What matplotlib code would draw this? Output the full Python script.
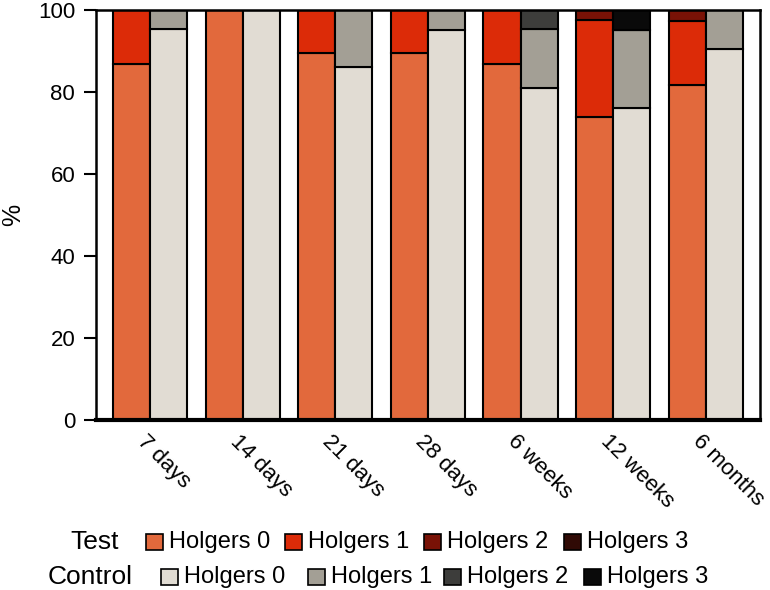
import matplotlib.pyplot as plt
import matplotlib.transforms as mtransforms
from matplotlib.patches import Rectangle
import numpy as np

plt.rcParams["font.family"] = ["Liberation Sans", "DejaVu Sans"]

periods = ["7 days", "14 days", "21 days", "28 days", "6 weeks", "12 weeks", "6 months"]

# percentage of sites per Holgers grade
test_h0 = [86.8, 100, 89.5, 89.5, 86.8, 73.8, 81.6]
test_h1 = [13.2, 0, 10.5, 10.5, 13.2, 23.7, 15.8]
test_h2 = [0, 0, 0, 0, 0, 2.5, 2.6]
test_h3 = [0, 0, 0, 0, 0, 0, 0]

ctrl_h0 = [95.3, 100, 86.0, 95.2, 81.0, 76.2, 90.5]
ctrl_h1 = [4.7, 0, 14.0, 4.8, 14.3, 19.0, 9.5]
ctrl_h2 = [0, 0, 0, 0, 4.7, 0, 0]
ctrl_h3 = [0, 0, 0, 0, 0, 4.8, 0]

test_colors = ["#E2693C", "#DC2B08", "#791206", "#300A05"]
ctrl_colors = ["#E1DCD3", "#A39F95", "#3D3D3B", "#0A0A0A"]

fig = plt.figure(figsize=(7.7, 5.9), dpi=100)
ax = fig.add_axes([0.1247, 0.2881, 0.862, 0.695])

x = np.arange(len(periods))
w = 0.4

def stack(xpos, series, colors):
    bottom = np.zeros(len(periods))
    for vals, c in zip(series, colors):
        vals = np.array(vals, dtype=float)
        ax.bar(xpos, vals, w, bottom=bottom, color=c, edgecolor="black",
               linewidth=1.5, align="edge")
        bottom += vals

stack(x - w, [test_h0, test_h1, test_h2, test_h3], test_colors)
stack(x, [ctrl_h0, ctrl_h1, ctrl_h2, ctrl_h3], ctrl_colors)

ax.set_xlim(-0.583, 6.583)
ax.set_ylim(0, 100)
ax.set_yticks([0, 20, 40, 60, 80, 100])
ax.tick_params(axis="y", labelsize=16, length=9, width=1.5, direction="out", pad=6)
ax.set_xticks(x)
ax.set_xticklabels(periods, rotation=-45, ha="left", va="top",
                   rotation_mode="anchor", fontsize=16)
ax.tick_params(axis="x", length=0, pad=8)
offset = mtransforms.ScaledTranslation(-0.02, 0, fig.dpi_scale_trans)
for lbl in ax.get_xticklabels():
    lbl.set_transform(lbl.get_transform() + offset)

for s in ["left", "right", "top"]:
    ax.spines[s].set_linewidth(1.8)
ax.spines["bottom"].set_linewidth(3)

ax.set_ylabel("%", fontsize=18)
ax.yaxis.set_label_coords(-0.107, 0.5)

# legend rows built by hand (pixel positions from the top-left corner)
W, H = 770.0, 590.0

def fx(px):
    return px / W

def fy(py):
    return 1 - py / H

rows = [
    ("Test", 70, 542, test_colors, [146, 285, 424, 564]),
    ("Control", 48, 577, ctrl_colors, [161, 308, 444, 584]),
]
for title, tx, ty, colors, xs in rows:
    fig.text(fx(tx), fy(ty), title, fontsize=19, va="center", ha="left")
    for i, (c, px) in enumerate(zip(colors, xs)):
        fig.add_artist(Rectangle((fx(px), fy(ty + 8)), 17 / W, 16 / H,
                                 transform=fig.transFigure, facecolor=c,
                                 edgecolor="black", linewidth=1.2))
        fig.text(fx(px + 23), fy(ty), "Holgers %d" % i, fontsize=17,
                 va="center", ha="left")

fig.savefig("out.png", dpi=100)
